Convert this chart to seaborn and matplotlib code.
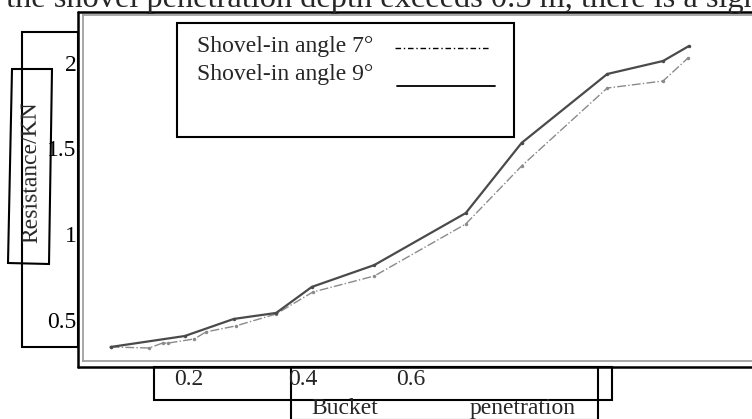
import numpy as np
import pandas as pd
import seaborn as sns
import matplotlib.pyplot as plt
from matplotlib.lines import Line2D
from matplotlib.patches import Rectangle, Polygon
from matplotlib.transforms import ScaledTranslation

# data
depth_9 = [0.130, 0.207, 0.258, 0.302, 0.339, 0.404, 0.499, 0.557, 0.646, 0.704, 0.731]
force_9 = [0.316, 0.380, 0.480, 0.515, 0.667, 0.795, 1.099, 1.509, 1.912, 1.988, 2.076]
depth_7 = [0.130, 0.170, 0.184, 0.190, 0.217, 0.229, 0.260, 0.302, 0.340, 0.404, 0.499, 0.557, 0.646, 0.704, 0.730]
force_7 = [0.316, 0.310, 0.339, 0.339, 0.363, 0.404, 0.439, 0.509, 0.637, 0.731, 1.035, 1.374, 1.830, 1.871, 2.006]
y_ticks = [0.5, 1, 1.5, 2]
y_labels = ["0.5", "1", "1.5", "2"]
x_ticks = [0.2, 0.4, 0.6]
x_labels = ["0.2", "0.4", "0.6"]
legend_labels = ["Shovel-in angle 7°", "Shovel-in angle 9°"]

sns.set_style("white")
plt.rcParams['font.family'] = ['Liberation Serif', 'DejaVu Serif']

W, H = 752, 419
fig = plt.figure(figsize=(W / 100, H / 100), dpi=100)

def fx(px):
    return px / W

def fy(py):
    return 1 - py / H

# axes extends past the right edge like in the cropped scan
ax = fig.add_axes([fx(83), fy(361), fx(780) - fx(83), fy(15.5) - fy(361)])

df9 = pd.DataFrame({"depth": depth_9, "force": force_9})
df7 = pd.DataFrame({"depth": depth_7, "force": force_7})
sns.lineplot(data=df7, x="depth", y="force", ax=ax, color="#8a8a8a", lw=1.0,
             linestyle="-.", marker="o", markersize=2.5, markeredgewidth=0, sort=False)
sns.lineplot(data=df9, x="depth", y="force", ax=ax, color="#4a4a4a", lw=1.6,
             marker="o", markersize=2.5, markeredgewidth=0, sort=False)

ax.set_xlim(0.1013, 0.8255)
ax.set_ylim(0.234, 2.254)
ax.set_xlabel("")
ax.set_ylabel("")
ax.set_yticks(y_ticks)
ax.set_yticklabels(y_labels)
ax.set_xticks(x_ticks)
ax.tick_params(axis="y", direction="in", length=8, width=1.2, color="#a0a0a0",
               labelsize=17, pad=4.5, labelcolor="black")
ax.tick_params(axis="x", direction="in", length=6, width=1.2, color="#a0a0a0",
               labelbottom=False)
for lab in ax.get_yticklabels():
    lab.set_transform(lab.get_transform() + ScaledTranslation(0, -0.04, fig.dpi_scale_trans))
for s in ax.spines.values():
    s.set_color("#a0a0a0")
    s.set_linewidth(1.3)

# black outer frame
k = dict(color="black", lw=1.8, transform=fig.transFigure)
fig.add_artist(Line2D([fx(78), fx(78)], [fy(12.5), fy(366.5)], **k))
fig.add_artist(Line2D([fx(78), 1], [fy(12.5), fy(12.5)], **k))
fig.add_artist(Line2D([fx(78), 1], [fy(366.5), fy(366.5)], **k))

# stray boxes of the scan
b = dict(fill=False, ec="black", lw=1.5, transform=fig.transFigure)
fig.add_artist(Rectangle((fx(22), fy(347)), fx(78) - fx(22), fy(32) - fy(347), **b))
fig.add_artist(Rectangle((fx(154), fy(400)), fx(612) - fx(154), fy(367) - fy(400), **b))
fig.add_artist(Rectangle((fx(291), fy(420)), fx(598) - fx(291), fy(367) - fy(420), **b))
ylab_box = [(12, 69), (52, 69), (49, 264), (8, 263)]
fig.add_artist(Polygon([(fx(x), fy(y)) for x, y in ylab_box], closed=True, **b))

# legend box
fig.add_artist(Rectangle((fx(177), fy(137)), fx(514) - fx(177), fy(23) - fy(137), **b))
fig.text(fx(197), fy(52), legend_labels[0], fontsize=17, va="baseline")
fig.text(fx(197), fy(80), legend_labels[1], fontsize=17, va="baseline")
fig.add_artist(Line2D([fx(395), fx(490)], [fy(48), fy(48)], color="black", lw=1.0,
                      linestyle=(0, (4, 2, 1, 2)), transform=fig.transFigure))
fig.add_artist(Line2D([fx(397), fx(495)], [fy(86), fy(86)], color="black", lw=1.3,
                      transform=fig.transFigure))

# axis texts
fig.text(fx(31), fy(172), "Resistance/KN", fontsize=17, rotation=90.6,
         ha="center", va="center")
for lx, t in zip([189, 303, 411], x_labels):
    fig.text(fx(lx), fy(385), t, fontsize=17, ha="center", va="baseline")
fig.text(fx(345), fy(414), "Bucket", fontsize=17, ha="center", va="baseline")
fig.text(fx(523), fy(414), "penetration", fontsize=17, ha="center", va="baseline")

# cropped caption line at the top
fig.text(fx(6), fy(7), "the shovel penetration depth exceeds 0.5 m, there is a significant",
         fontsize=23.3, va="baseline")

fig.savefig("out.png", dpi=100)
